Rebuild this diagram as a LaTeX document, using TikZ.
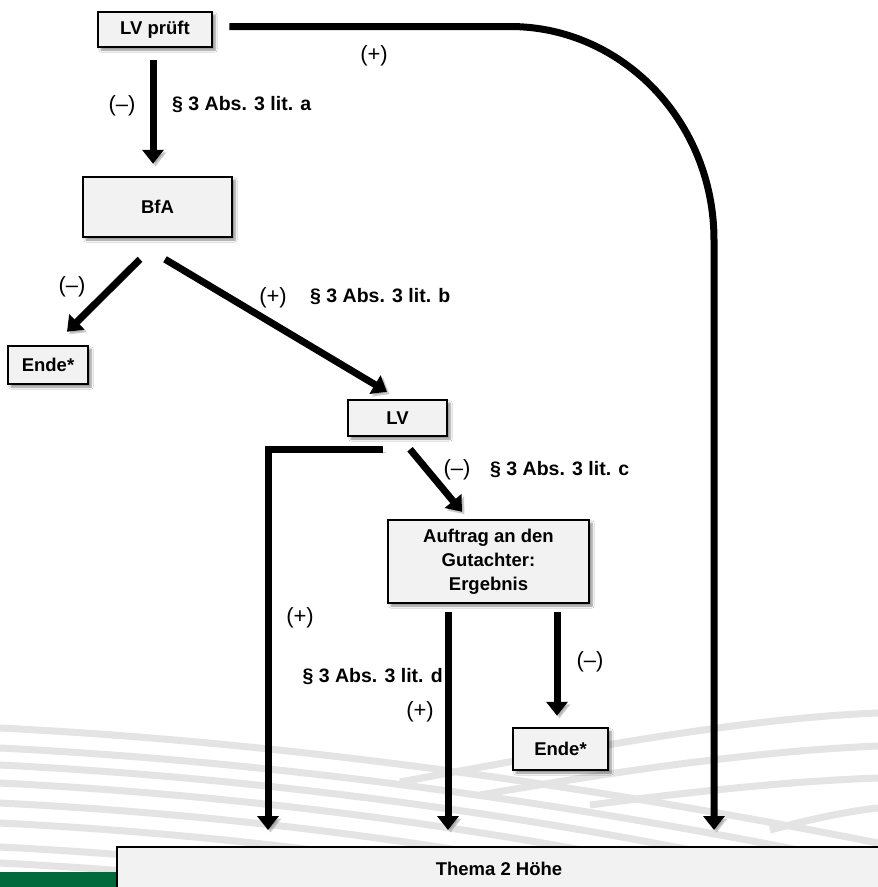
\documentclass[tikz,border=0pt]{standalone}
\usepackage{fontspec}
\setmainfont{Liberation Sans}
\usetikzlibrary{arrows.meta,shadows.blur,calc}
\definecolor{boxfill}{HTML}{F2F2F2}
\definecolor{swoosh}{HTML}{E4E4E4}
\definecolor{dgreen}{HTML}{006A3C}
\begin{document}
\begin{tikzpicture}[x=1pt,y=-1pt,
  box/.style={draw=black, line width=2.5pt, fill=boxfill,
    font=\bfseries\fontsize{18.5}{24}\selectfont, align=center, inner sep=0pt,
    blur shadow={shadow xshift=3pt, shadow yshift=-3pt, shadow blur steps=6, shadow opacity=45}},
  flow/.style={line width=7pt, -{Triangle[width=21pt,length=14pt]},
    preaction={draw=black!45, opacity=0.45, transform canvas={xshift=2.5pt,yshift=-2.5pt}}},
  lbl/.style={font=\bfseries\fontsize{19.5}{22}\selectfont, inner sep=0pt},
  sgn/.style={font=\fontsize{22}{24}\selectfont, inner sep=0pt},
  bg/.style={swoosh, line width=7pt}
]
\path[clip] (0,0) rectangle (878,887);
\fill[white] (0,0) rectangle (878,887);

% background swooshes
\foreach \a/\b in {728/843, 748/866, 765/890, 783/915, 803/940, 823/965, 847/990, 863/1010}{
  \draw[bg] (0,\a) .. controls (300,\a+15) and (600,\a+60) .. (878,\b);
}
\draw[bg] (400,782) .. controls (600,745) and (750,718) .. (878,713);
\draw[bg] (480,795) .. controls (650,765) and (780,750) .. (878,746);
\draw[bg] (590,805) .. controls (720,788) and (800,781) .. (878,778);
\draw[bg] (770,830) .. controls (815,818) and (850,811) .. (878,808);

\fill[dgreen] (0,872) rectangle (118,887);

% boxes
\node[box, minimum width=114pt, minimum height=35pt] (lvp) at (155,29.5) {LV prüft};
\node[box, minimum width=149pt, minimum height=60pt] (bfa) at (157.5,207) {BfA};
\node[box, minimum width=80pt, minimum height=38pt] (ende1) at (48,365) {Ende*};
\node[box, minimum width=99pt, minimum height=36pt] (lv) at (397.5,418) {LV};
\node[box, minimum width=201pt, minimum height=83pt] (auf) at (488.5,561.5) {Auftrag an den\\Gutachter:\\Ergebnis};
\node[box, minimum width=95pt, minimum height=42pt] (ende2) at (560.5,749) {Ende*};
\node[box, minimum width=764pt, minimum height=43pt] (thema) at (499,868.5) {Thema 2 Höhe};

\coordinate (t1) at (268,830);
\coordinate (t2) at (448,830);
\coordinate (t3) at (714,830);

% connectors
\draw[flow] ($(lvp.south)+(-2,12)$) -- ($(bfa.north)+(-4.5,-12)$);
\draw[flow] ($(bfa.south)+(-17.5,21)$) -- ($(ende1.north)+(19,-13)$);
\draw[flow] ($(bfa.south)+(7.5,21)$) -- ($(lv.north)+(-10.5,-7)$);
\draw[flow] ($(lv.south)+(12.5,12)$) -- ($(auf.north)+(-26.5,-7)$);
\draw[flow] ($(lv.south)+(-14.5,12)$) -| (t1);
\draw[flow] ($(auf.south)+(-40.5,8)$) -- (t2);
\draw[flow] ($(auf.south)+(68.5,8)$) -- ($(ende2.north)+(-3.5,-11)$);
\draw[flow] ($(lvp.east)+(16,-3)$) -- (510,26.5) arc[start angle=-90, end angle=0, x radius=204, y radius=213.5] -- (t3);

% labels
\node[sgn] (m1) at (122,106) {(–)};
\node[lbl, anchor=west] (la) at (172,105) {§ 3 Abs. 3 lit. a};
\node[sgn] (p1) at (374,56) {(+)};
\node[sgn] (m2) at (72,287) {(–)};
\node[sgn] (p2) at (273,298) {(+)};
\node[lbl, anchor=west] (lb) at (310,297) {§ 3 Abs. 3 lit. b};
\node[sgn] (m3) at (457,470) {(–)};
\node[lbl, anchor=west] (lc) at (490,470) {§ 3 Abs. 3 lit. c};
\node[sgn] (p3) at (300,618) {(+)};
\node[lbl, anchor=east] (ld) at (443,677) {§ 3 Abs. 3 lit. d};
\node[sgn] (p4) at (420,712) {(+)};
\node[sgn] (m4) at (590,662) {(–)};
\end{tikzpicture}
\end{document}
